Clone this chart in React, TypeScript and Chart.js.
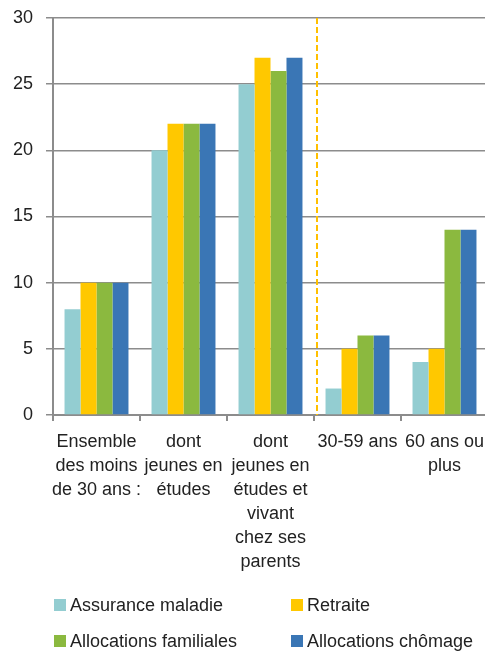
import React, { useEffect, useRef } from "react";
import { Chart, registerables } from "chart.js";

Chart.register(...registerables);

const categories: string[][] = [
  ["Ensemble", "des moins", "de 30 ans :"],
  ["dont", "jeunes en", "études"],
  ["dont", "jeunes en", "études et", "vivant", "chez ses", "parents"],
  ["30-59 ans"],
  ["60 ans ou", "plus"],
];

const seriesNames = ["Assurance maladie", "Retraite", "Allocations familiales", "Allocations chômage"];
const seriesColors = ["#93CDD1", "#FFC800", "#8BB93F", "#3A76B5"];

const assuranceMaladie = [8, 20, 25, 2, 4];
const retraite = [10, 22, 27, 5, 5];
const allocationsFamiliales = [10, 22, 26, 6, 14];
const allocationsChomage = [10, 22, 27, 6, 14];

const yTicks = [0, 5, 10, 15, 20, 25, 30];

const FONT = "'Liberation Sans', Arial, sans-serif";
const FS = 18;
const TEXT = "#222222";
const GRID = "#8c8c8c";

const dividerPlugin = {
  id: "divider",
  afterDatasetsDraw(chart: any) {
    const x = chart.scales.x;
    const area = chart.chartArea;
    const px = (x.getPixelForValue(2) + x.getPixelForValue(3)) / 2 + 3;
    const ctx = chart.ctx;
    ctx.save();
    ctx.strokeStyle = "#FFC000";
    ctx.lineWidth = 2;
    ctx.setLineDash([6, 3]);
    ctx.beginPath();
    ctx.moveTo(px, area.top);
    ctx.lineTo(px, area.bottom);
    ctx.stroke();
    ctx.restore();
  },
};

const legendPlugin = {
  id: "gridLegend",
  afterDraw(chart: any) {
    const ctx = chart.ctx;
    const cols = [54, 291];
    const rows = [605, 641];
    ctx.save();
    ctx.font = `${FS}px ${FONT}`;
    ctx.textBaseline = "middle";
    ctx.textAlign = "left";
    seriesNames.forEach((name, i) => {
      const cx = cols[i % 2];
      const cy = rows[Math.floor(i / 2)];
      ctx.fillStyle = seriesColors[i];
      ctx.fillRect(cx, cy - 6, 12, 12);
      ctx.fillStyle = TEXT;
      ctx.fillText(name, cx + 16, cy + 1);
    });
    ctx.restore();
  },
};

export default function App() {
  const ref = useRef<HTMLCanvasElement | null>(null);

  useEffect(() => {
    if (!ref.current) return;
    const data = [assuranceMaladie, retraite, allocationsFamiliales, allocationsChomage];
    const chart = new Chart(ref.current, {
      type: "bar",
      data: {
        labels: categories,
        datasets: data.map((d, i) => ({
          label: seriesNames[i],
          data: d,
          backgroundColor: seriesColors[i],
          borderWidth: 0,
          categoryPercentage: 0.735,
          barPercentage: 1,
        })),
      },
      options: {
        animation: false,
        responsive: false,
        maintainAspectRatio: false,
        layout: { padding: { top: 18, right: 2, bottom: 73, left: 0 }, autoPadding: false },
        plugins: {
          legend: { display: false },
          tooltip: { enabled: false },
        },
        scales: {
          x: {
            offset: true,
            grid: {
              offset: true,
              drawOnChartArea: false,
              drawTicks: true,
              tickLength: 6,
              color: GRID,
              lineWidth: 2,
            },
            border: { color: GRID, width: 2 },
            ticks: {
              autoSkip: false,
              maxRotation: 0,
              minRotation: 0,
              padding: 9,
              color: TEXT,
              font: { family: FONT, size: FS, lineHeight: 24 / FS },
            },
            afterFit(scale: any) {
              scale.height = 165;
              scale.paddingLeft = 0;
              scale.paddingRight = 0;
            },
          },
          y: {
            min: 0,
            max: 30,
            afterBuildTicks(scale: any) {
              scale.ticks = yTicks.map((v) => ({ value: v }));
            },
            grid: {
              color: GRID,
              lineWidth: 1.5,
              tickLength: 7,
              drawTicks: true,
            },
            border: { color: GRID, width: 2 },
            ticks: {
              padding: 13,
              color: TEXT,
              font: { family: FONT, size: FS },
            },
            afterFit(scale: any) {
              scale.width = 53;
              scale.paddingTop = 0;
              scale.paddingBottom = 0;
            },
          },
        },
      },
      plugins: [dividerPlugin, legendPlugin],
    });
    return () => chart.destroy();
  }, []);

  return (
    <div style={{ position: "fixed", left: 0, top: 0, width: 485, height: 653, overflow: "hidden", background: "#fff" }}>
      <canvas ref={ref} width={490} height={653} style={{ width: 490, height: 653, display: "block" }} />
    </div>
  );
}
